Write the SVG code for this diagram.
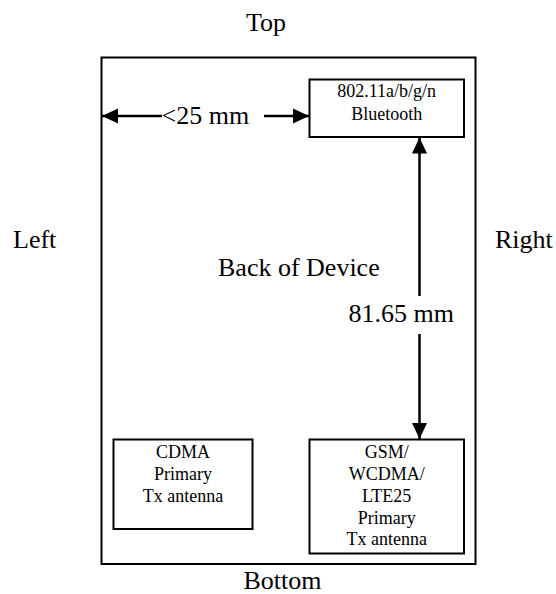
<svg xmlns="http://www.w3.org/2000/svg" width="556" height="594" viewBox="0 0 556 594">
<style>
text{font-family:"Liberation Serif","Times New Roman",serif;fill:#000}
.big{font-size:26px}
.small{font-size:18px;text-anchor:middle}
.box{fill:#fff;stroke:#000;stroke-width:2}
.ln{stroke:#000;stroke-width:2.5;fill:none}
</style>
<defs>
<marker id="ah" markerUnits="userSpaceOnUse" markerWidth="16" markerHeight="16" viewBox="0 0 16 16" refX="16" refY="8" orient="auto-start-reverse">
<path d="M0,0.5 L16,8 L0,15.5 Z" fill="#000"/>
</marker>
</defs>
<rect fill="#fff" x="0" y="0" width="556" height="594"/>
<text class="big" x="266" y="31" text-anchor="middle">Top</text>
<text class="big" x="282.5" y="589" text-anchor="middle">Bottom</text>
<text class="big" x="13" y="248">Left</text>
<text class="big" x="495" y="248">Right</text>
<g id="device">
<rect class="box" x="101.5" y="57.5" width="374" height="506.5"/>
<text class="big" x="218" y="276">Back of Device</text>
</g>
<g id="wifi">
<rect class="box" x="309.5" y="79.5" width="154.5" height="57.5"/>
<text class="small" x="386.7" y="97">802.11a/b/g/n</text>
<text class="small" x="386.7" y="120">Bluetooth</text>
</g>
<g id="cdma">
<rect class="box" x="113.5" y="439.5" width="139" height="89.5"/>
<text class="small" x="183" y="457.5">CDMA</text>
<text class="small" x="183" y="480">Primary</text>
<text class="small" x="183" y="502">Tx antenna</text>
</g>
<g id="gsm">
<rect class="box" x="309.5" y="439.5" width="154.5" height="114"/>
<text class="small" x="386.7" y="457.5">GSM/</text>
<text class="small" x="386.7" y="480">WCDMA/</text>
<text class="small" x="386.7" y="502">LTE25</text>
<text class="small" x="386.7" y="523.5">Primary</text>
<text class="small" x="386.7" y="545">Tx antenna</text>
</g>
<g id="connectors">
<line class="ln" x1="162" y1="116" x2="102" y2="116" marker-end="url(#ah)"/>
<text class="big" x="161.5" y="124">&lt;25 mm</text>
<line class="ln" x1="264" y1="116" x2="309" y2="116" marker-end="url(#ah)"/>
<line class="ln" x1="419.5" y1="296" x2="419.5" y2="137.5" marker-end="url(#ah)"/>
<text class="big" x="454" y="322" text-anchor="end">81.65 mm</text>
<line class="ln" x1="419.5" y1="334" x2="419.5" y2="439" marker-end="url(#ah)"/>
</g>
</svg>
